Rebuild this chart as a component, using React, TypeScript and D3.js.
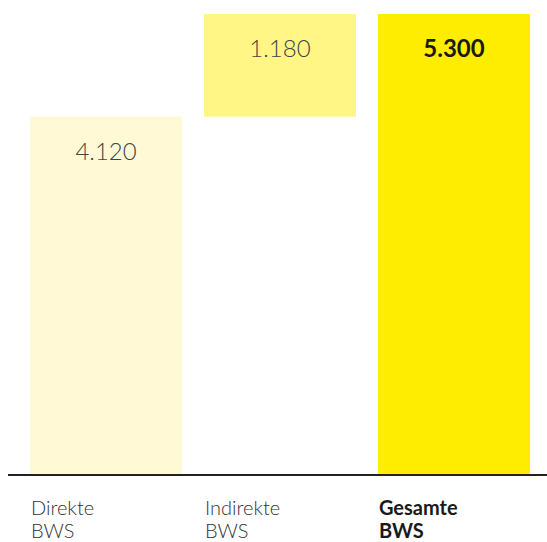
import React from "react";
import * as d3 from "d3";

const categories = ["Direkte BWS", "Indirekte BWS", "Gesamte BWS"];
const starts = [0, 4120, 0];
const values = [4120, 1180, 5300];
const labels = ["4.120", "1.180", "5.300"];
const colors = ["#FFF9D6", "#FFF685", "#FFED00"];

const width = 547;
const height = 542;
const font = "Lato, 'Open Sans', sans-serif";

const App = (): JSX.Element => {
    const x = d3.scaleBand<string>().domain(categories).range([30, 530]).paddingInner(0.126);
    const y = d3.scaleLinear().domain([0, 5300]).range([475, 14]);

    return (
        <svg
            width={width}
            height={height}
            viewBox={`0 0 ${width} ${height}`}
            style={{ position: "absolute", left: 0, top: 0, display: "block" }}
        >
            {categories.map((c, i) => {
                const isTotal = i === categories.length - 1;
                const top = y(starts[i] + values[i]);
                const bottom = y(starts[i]);
                const cx = (x(c) as number) + x.bandwidth() / 2;
                const words = c.split(" ");
                return (
                    <g key={c}>
                        <rect x={x(c)} y={top} width={x.bandwidth()} height={bottom - top} fill={colors[i]} />
                        <text
                            x={cx}
                            y={top + 43}
                            textAnchor="middle"
                            fontFamily={font}
                            fontSize={24}
                            fontWeight={isTotal ? 700 : 300}
                            fill={isTotal ? "#1a1a1a" : "#444"}
                        >
                            {labels[i]}
                        </text>
                        <text
                            x={(x(c) as number) + 1}
                            y={515}
                            fontFamily={font}
                            fontSize={20}
                            fontWeight={isTotal ? 700 : 300}
                            fill={isTotal ? "#1a1a1a" : "#333"}
                        >
                            {words.map((w, j) => (
                                <tspan key={w} x={(x(c) as number) + 1} dy={j === 0 ? 0 : 23}>
                                    {w}
                                </tspan>
                            ))}
                        </text>
                    </g>
                );
            })}
            <line x1={8} x2={width} y1={y(0)} y2={y(0)} stroke="#222" strokeWidth={2} />
        </svg>
    );
};

export default App;
